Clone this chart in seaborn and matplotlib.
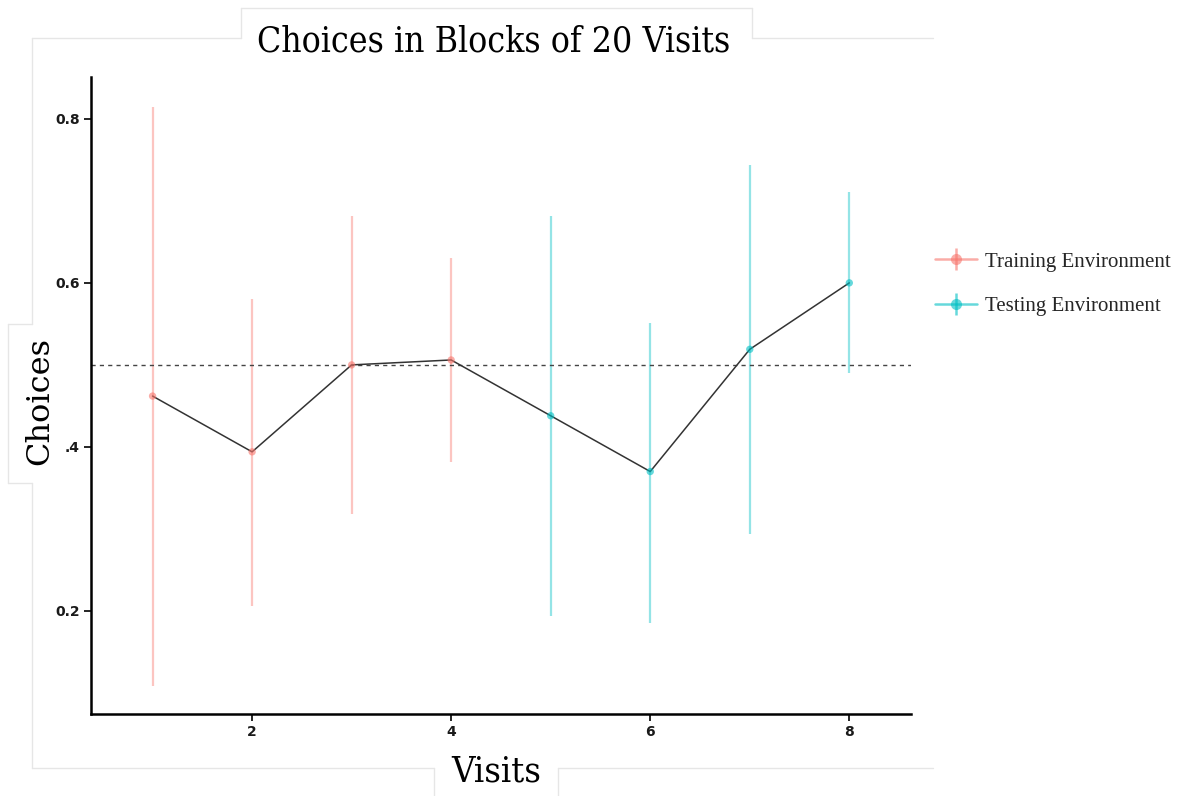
import matplotlib
matplotlib.use("Agg")
import matplotlib.pyplot as plt
from matplotlib.lines import Line2D
import seaborn as sns
import pandas as pd

# Block-wise choice proportions with their intervals
visits = [1, 2, 3, 4, 5, 6, 7, 8]
choices = [0.462, 0.394, 0.500, 0.506, 0.438, 0.370, 0.519, 0.600]
lower = [0.109, 0.206, 0.318, 0.382, 0.194, 0.185, 0.294, 0.490]
upper = [0.815, 0.580, 0.682, 0.630, 0.682, 0.551, 0.744, 0.711]
environment = ["Training Environment"] * 4 + ["Testing Environment"] * 4
env_order = ["Training Environment", "Testing Environment"]
env_colors = ["#F8766D", "#00BFC4"]

y_ticks = [0.2, 0.4, 0.6, 0.8]
y_tick_labels = ["0.2", ".4", "0.6", "0.8"]
x_ticks = [2, 4, 6, 8]
x_tick_labels = ["2", "4", "6", "8"]

df = pd.DataFrame({"Visits": visits, "Choices": choices, "lower": lower,
                   "upper": upper, "Environment": environment})

sns.set_theme(style="white")
plt.rcParams["font.family"] = ["DejaVu Sans"]

fig = plt.figure(figsize=(11.81, 7.96), dpi=100)
ax = fig.add_axes([0.0771, 0.1030, 0.6943, 0.8003])

palette = dict(zip(env_order, env_colors))

# interval lines
for env, col in palette.items():
    sub = df[df["Environment"] == env]
    ax.vlines(sub["Visits"], sub["lower"], sub["upper"], color=col,
              alpha=0.42, lw=1.6, zorder=1)

# reference line at chance
ax.axhline(0.5, color="#444444", lw=1.0, ls=(0, (3, 3)), zorder=2)

# connecting line across all blocks
sns.lineplot(data=df, x="Visits", y="Choices", color="#333333", lw=1.1,
             ax=ax, zorder=3, legend=False)

# block means
sns.scatterplot(data=df, x="Visits", y="Choices", hue="Environment",
                hue_order=env_order, palette=palette, s=28, alpha=0.6,
                edgecolor="none", ax=ax, zorder=4, legend=False)

ax.set_xlim(0.382, 8.62)
ax.set_ylim(0.0744, 0.851)
ax.set_xticks(x_ticks)
ax.set_xticklabels(x_tick_labels)
ax.set_yticks(y_ticks)
ax.set_yticklabels(y_tick_labels)
ax.set_xlabel("")
ax.set_ylabel("")

for side in ["top", "right"]:
    ax.spines[side].set_visible(False)
for side in ["left", "bottom"]:
    ax.spines[side].set_color("black")
    ax.spines[side].set_linewidth(1.8)

ax.tick_params(axis="both", which="both", direction="out", length=5,
               width=1.2, color="black", left=True, bottom=True, pad=3)
for lab in ax.get_xticklabels() + ax.get_yticklabels():
    lab.set_family(["Liberation Sans Narrow", "DejaVu Sans"])
    lab.set_fontweight("bold")
    lab.set_fontsize(10)
    lab.set_color("#1a1a1a")

# legend with point-range style keys
handles = []
for col in env_colors:
    h1 = Line2D([], [], color=col, lw=1.8, alpha=0.6, marker="o",
                markersize=8, markeredgewidth=0)
    h2 = Line2D([], [], color=col, lw=0, alpha=0.6, marker="|",
                markersize=16, markeredgewidth=1.8)
    handles.append((h1, h2))
fig.legend(handles, env_order, loc="center left",
           bbox_to_anchor=(0.776, 0.643), frameon=False, handlelength=2.0,
           handletextpad=0.4, labelspacing=1.2,
           prop={"family": "Liberation Serif", "size": 15})

# light frame with label boxes
frame_col = "#e6e6e6"
def fig_line(xs, ys):
    fig.add_artist(Line2D([x / 1181 for x in xs], [1 - y / 796 for y in ys],
                          color=frame_col, lw=1.0, transform=fig.transFigure))

fig_line([32, 241], [38, 38])
fig_line([752, 933], [38, 38])
fig_line([241, 241], [38, 8])
fig_line([241, 752], [8, 8])
fig_line([752, 752], [8, 38])
fig_line([32, 32], [38, 324])
fig_line([32, 8], [324, 324])
fig_line([8, 8], [324, 483])
fig_line([8, 32], [483, 483])
fig_line([32, 32], [483, 768])
fig_line([32, 434], [768, 768])
fig_line([434, 434], [768, 796])
fig_line([558, 558], [768, 796])
fig_line([558, 933], [768, 768])

fig.text(494 / 1181, 1 - 42 / 796, "Choices in Blocks of 20 Visits",
         ha="center", va="center", fontsize=25.5, color="black",
         family=["DejaVu Serif"], fontstretch="condensed")
fig.text(496 / 1181, 1 - 771 / 796, "Visits", ha="center", va="center",
         fontsize=26, color="black", family=["DejaVu Serif"],
         fontstretch="condensed")
fig.text(40 / 1181, 1 - 401 / 796, "Choices", ha="center", va="center",
         rotation=90, fontsize=23, color="black", family=["DejaVu Serif"])

fig.savefig("out.png", dpi=100, facecolor="white")
